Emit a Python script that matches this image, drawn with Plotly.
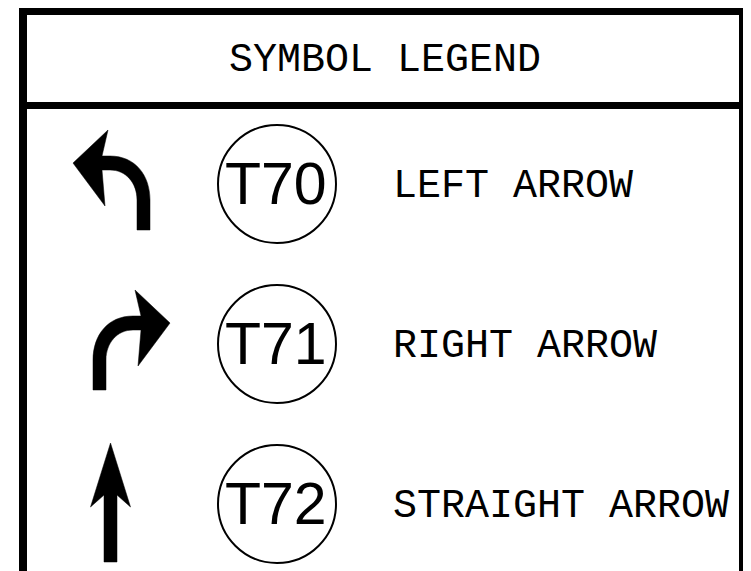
import plotly.graph_objects as go

# ---- content ----
title_text = "SYMBOL LEGEND"
symbol_codes = ["T70", "T71", "T72"]
symbol_labels = ["LEFT ARROW", "RIGHT ARROW", "STRAIGHT ARROW"]
arrow_kinds = ["left", "right", "straight"]

# ---- layout constants (pixel space of the window) ----
W, H = 751, 571
BODY = 8  # default page margin of the browser
ROW0, ROW_STEP = 185, 160
ARROW_X = {"left": 143.5, "right": 99.5, "straight": 110.5}
CIRCLE_X, CIRCLE_R = 277, 59
LABEL_X = 391
LABEL_FONT = "Liberation Mono"
CODE_FONT = "Liberation Sans, Arial, sans-serif"

# arrow glyphs in local coordinates (stem centre at x=0, row centre at y=0)
TURN_LEFT = [
    ("M", (-70.5, -22)), ("L", (-35.5, -55)), ("L", (-41.5, -29)), ("L", (-33.5, -29)),
    ("C", (-8.5, -29), (6.5, -10), (6.5, 15)), ("L", (6.5, 45)), ("L", (-6.5, 45)),
    ("L", (-6.5, 15)), ("C", (-6.5, -2), (-17.5, -15), (-33.5, -15)),
    ("L", (-41.5, -15)), ("L", (-38.5, 21)),
]
STRAIGHT = [
    ("M", (0, -62)), ("L", (20, 2)), ("L", (6.5, -10)), ("L", (6.5, 57)),
    ("L", (-6.5, 57)), ("L", (-6.5, -10)), ("L", (-20, 2)),
]


def glyph_path(cmds, ox, oy, mirror=False):
    s = 1 if not mirror else -1
    parts = []
    for c in cmds:
        op, pts = c[0], c[1:]
        parts.append(op + " " + " ".join(f"{ox + s * px:.2f},{oy + py:.2f}" for px, py in pts))
    return " ".join(parts) + " Z"


fig = go.Figure()
fig.add_trace(go.Scatter(x=[BODY, W], y=[BODY, H], mode="markers",
                         marker=dict(opacity=0), hoverinfo="skip", showlegend=False))

shapes = []
BLACK = "#000000"
# frame
shapes.append(dict(type="line", x0=19, x1=747, y0=11, y1=11, line=dict(color=BLACK, width=8)))
shapes.append(dict(type="line", x0=19, x1=747, y0=105.5, y1=105.5, line=dict(color=BLACK, width=7)))
shapes.append(dict(type="line", x0=23, x1=23, y0=8, y1=H + 5, line=dict(color=BLACK, width=8)))
shapes.append(dict(type="line", x0=743, x1=743, y0=8, y1=H + 5, line=dict(color=BLACK, width=8)))

annotations = [dict(x=385, y=60, text=title_text, showarrow=False, xanchor="center", yanchor="middle",
                    font=dict(family=LABEL_FONT, size=40, color=BLACK))]

for i, (code, label, kind) in enumerate(zip(symbol_codes, symbol_labels, arrow_kinds)):
    ry = ROW0 + ROW_STEP * i
    ax = ARROW_X[kind]
    if kind == "left":
        p = glyph_path(TURN_LEFT, ax, ry)
    elif kind == "right":
        p = glyph_path(TURN_LEFT, ax, ry, mirror=True)
    else:
        p = glyph_path(STRAIGHT, ax, ry)
    shapes.append(dict(type="path", path=p, fillcolor=BLACK, line=dict(color=BLACK, width=0.5)))
    cy = ry - 1
    shapes.append(dict(type="circle", x0=CIRCLE_X - CIRCLE_R, x1=CIRCLE_X + CIRCLE_R,
                       y0=cy - CIRCLE_R, y1=cy + CIRCLE_R, line=dict(color=BLACK, width=2)))
    annotations.append(dict(x=CIRCLE_X - 1, y=cy, text=code, showarrow=False, xanchor="center",
                            yanchor="middle", font=dict(family=CODE_FONT, size=59, color=BLACK)))
    annotations.append(dict(x=LABEL_X, y=ry + 1, text=label, showarrow=False, xanchor="left",
                            yanchor="middle", font=dict(family=LABEL_FONT, size=40, color=BLACK)))

fig.update_layout(
    width=W - BODY, height=H - BODY, autosize=False,
    margin=dict(l=0, r=0, t=0, b=0),
    paper_bgcolor="white", plot_bgcolor="white",
    xaxis=dict(range=[BODY, W], visible=False, fixedrange=True),
    yaxis=dict(range=[H, BODY], visible=False, fixedrange=True),
    shapes=shapes, annotations=annotations, showlegend=False,
)
fig.write_html("out.html")
